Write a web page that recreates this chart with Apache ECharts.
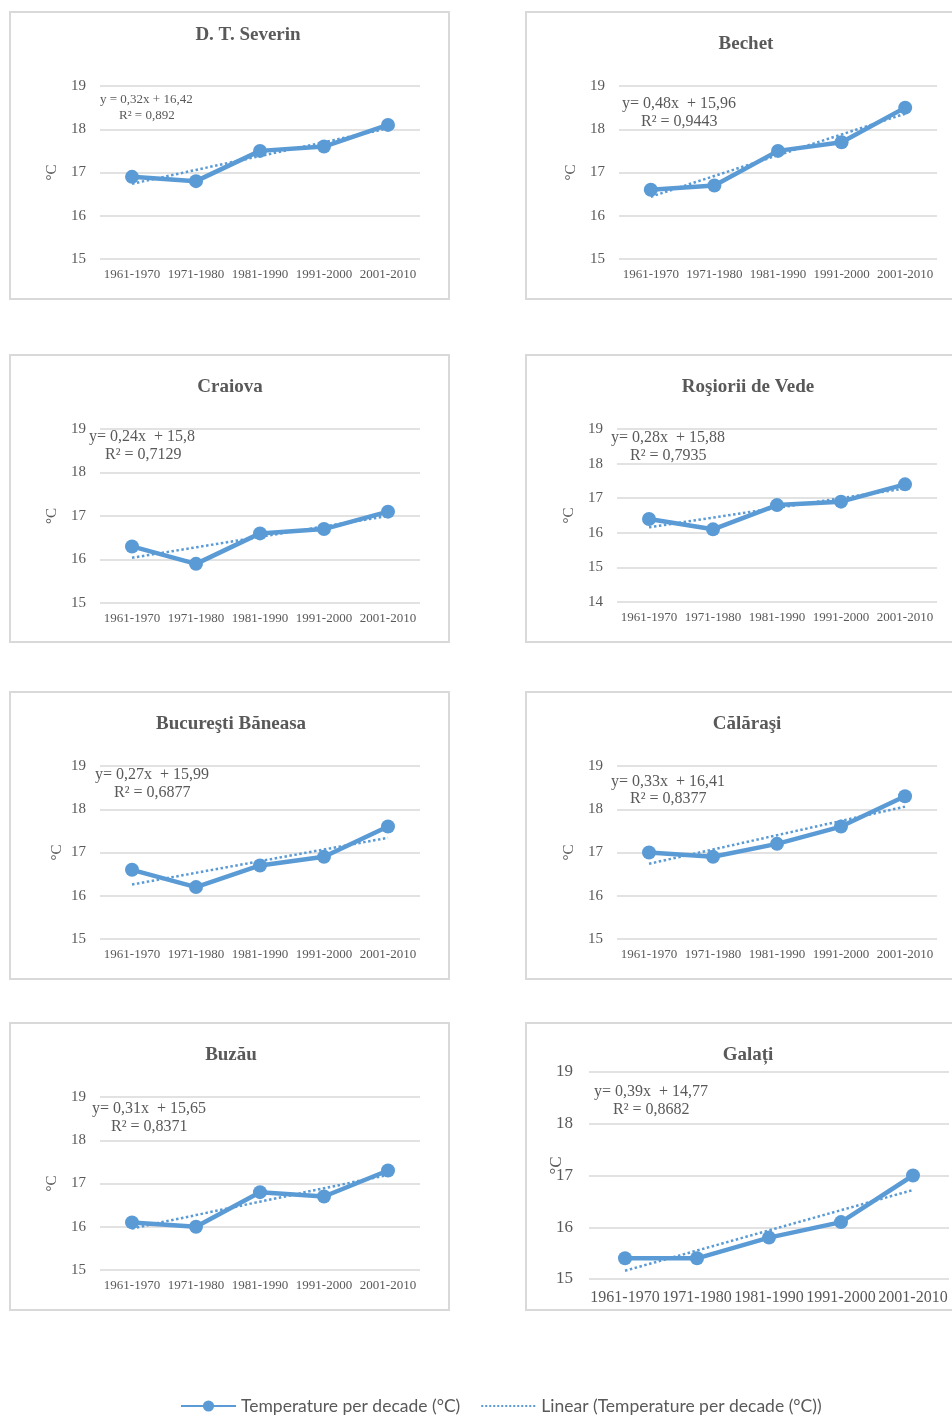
<!DOCTYPE html>
<html><head><meta charset="utf-8">
<script src="https://cdn.jsdelivr.net/npm/echarts@6/dist/echarts.min.js"></script>
<style>html,body{margin:0;padding:0;background:#fff}#c{width:952px;height:1416px}</style>
</head><body><div id="c"></div>
<script>
// ---- data ----
const categories = ['1961-1970', '1971-1980', '1981-1990', '1991-2000', '2001-2010'];
const stations = ['D. T. Severin', 'Bechet', 'Craiova', 'Roşiorii de Vede', 'Bucureşti Băneasa', 'Călăraşi', 'Buzău', 'Galați'];
const severin   = [16.9, 16.8, 17.5, 17.6, 18.1];
const bechet    = [16.6, 16.7, 17.5, 17.7, 18.5];
const craiova   = [16.3, 15.9, 16.6, 16.7, 17.1];
const rosiori   = [16.4, 16.1, 16.8, 16.9, 17.4];
const bucuresti = [16.6, 16.2, 16.7, 16.9, 17.6];
const calarasi  = [17.0, 16.9, 17.2, 17.6, 18.3];
const buzau     = [16.1, 16.0, 16.8, 16.7, 17.3];
const galati    = [15.4, 15.4, 15.8, 16.1, 17.0];
const trendSlopes     = [0.32, 0.48, 0.24, 0.28, 0.27, 0.33, 0.31, 0.39];
const trendIntercepts = [16.42, 15.96, 15.8, 15.88, 15.99, 16.41, 15.65, 14.77];
const equationTexts = ['y = 0,32x + 16,42', 'y= 0,48x  + 15,96', 'y= 0,24x  + 15,8', 'y= 0,28x  + 15,88',
                       'y= 0,27x  + 15,99', 'y= 0,33x  + 16,41', 'y= 0,31x  + 15,65', 'y= 0,39x  + 14,77'];
const r2Texts = ['R² = 0,892', 'R² = 0,9443', 'R² = 0,7129', 'R² = 0,7935',
                 'R² = 0,6877', 'R² = 0,8377', 'R² = 0,8371', 'R² = 0,8682'];
const yMins = [15, 15, 15, 14, 15, 15, 15, 15];
const yMaxs = [19, 19, 19, 19, 19, 19, 19, 19];
const seriesValues = [severin, bechet, craiova, rosiori, bucuresti, calarasi, buzau, galati];
const seriesName = 'Temperature per decade (°C)';
const trendName = 'Linear (Temperature per decade (°C))';

// ---- layout ----
const panels = [
  {bx:10,  by:12,   gl:100, gr:420, gt:86,   gb:259,  tx:248, ty:35,   ex:100, ey:100,  rx:119, ry:116,  ux:52,  efs:13, yfs:15, xfs:13},
  {bx:526, by:12,   gl:619, gr:937, gt:86,   gb:259,  tx:746, ty:44,   ex:622, ey:104,  rx:641, ry:122,  ux:571, efs:16, yfs:15, xfs:13},
  {bx:10,  by:355,  gl:100, gr:420, gt:429,  gb:603,  tx:230, ty:387,  ex:89,  ey:437,  rx:105, ry:455,  ux:52,  efs:16, yfs:15, xfs:13},
  {bx:526, by:355,  gl:617, gr:937, gt:429,  gb:602,  tx:748, ty:387,  ex:611, ey:438,  rx:630, ry:456,  ux:569, efs:16, yfs:15, xfs:13},
  {bx:10,  by:692,  gl:100, gr:420, gt:766,  gb:939,  tx:231, ty:724,  ex:95,  ey:775,  rx:114, ry:793,  ux:57,  efs:16, yfs:15, xfs:13},
  {bx:526, by:692,  gl:617, gr:937, gt:766,  gb:939,  tx:747, ty:724,  ex:611, ey:782,  rx:630, ry:799,  ux:569, efs:16, yfs:15, xfs:13},
  {bx:10,  by:1023, gl:100, gr:420, gt:1097, gb:1270, tx:231, ty:1055, ex:92,  ey:1109, rx:111, ry:1127, ux:52,  efs:16, yfs:15, xfs:13},
  {bx:526, by:1023, gl:589, gr:949, gt:1072, gb:1279, tx:748, ty:1055, ex:594, ey:1092, rx:613, ry:1110, ux:557, efs:16, yfs:17, xfs:16}
];
const PW = 439, PH = 287;
const blue = '#5b9bd5', txt = '#595959', gridC = '#d9d9d9';
const serif = '"Liberation Serif", "DejaVu Serif", serif';

const grids = [], xAxes = [], yAxes = [], series = [], graphics = [];
panels.forEach((p, i) => {
  grids.push({left: p.gl, top: p.gt, width: p.gr - p.gl, height: p.gb - p.gt, containLabel: false});
  xAxes.push({
    type: 'category', gridIndex: i, data: categories, boundaryGap: true,
    axisLine: {show: false}, axisTick: {show: false},
    axisLabel: {color: txt, fontFamily: serif, fontSize: p.xfs, margin: i === 7 ? 11 : 9, interval: 0}
  });
  yAxes.push({
    type: 'value', gridIndex: i, min: yMins[i], max: yMaxs[i], interval: 1,
    axisLine: {show: false}, axisTick: {show: false},
    axisLabel: {color: txt, fontFamily: serif, fontSize: p.yfs, margin: i === 7 ? 16 : 14},
    splitLine: {lineStyle: {color: gridC, width: 1.5}}
  });
  series.push({
    name: trendName, type: 'line', xAxisIndex: i, yAxisIndex: i, z: 2,
    data: categories.map((c, k) => +(trendSlopes[i] * (k + 1) + trendIntercepts[i]).toFixed(4)),
    symbol: 'none', silent: true,
    lineStyle: {color: blue, width: 2.5, type: 'dotted'}, itemStyle: {color: blue}
  });
  series.push({
    name: seriesName, type: 'line', xAxisIndex: i, yAxisIndex: i, z: 3,
    data: seriesValues[i], symbol: 'circle', symbolSize: 14,
    lineStyle: {color: blue, width: 4.5}, itemStyle: {color: blue}
  });
  graphics.push({
    type: 'text', x: p.tx, y: p.ty, silent: true,
    style: {text: stations[i], font: 'bold 19px ' + serif, fill: txt, textAlign: 'center', textVerticalAlign: 'middle'}
  });
  graphics.push({
    type: 'rect', shape: {x: p.bx, y: p.by, width: PW + (p.bx > 500 ? 40 : 0), height: PH},
    style: {fill: 'none', stroke: gridC, lineWidth: 2}, z: -10, silent: true
  });
  graphics.push({
    type: 'text', x: p.ex, y: p.ey, silent: true,
    style: {text: equationTexts[i], font: p.efs + 'px ' + serif, fill: txt, textVerticalAlign: 'middle'}
  });
  graphics.push({
    type: 'text', x: p.rx, y: p.ry, silent: true,
    style: {text: r2Texts[i], font: p.efs + 'px ' + serif, fill: txt, textVerticalAlign: 'middle'}
  });
  graphics.push({
    type: 'text', x: p.ux, y: (p.gt + p.gb) / 2 + (i === 7 ? -10 : 0), rotation: Math.PI / 2, silent: true,
    style: {text: '°C', font: (i === 7 ? 17 : 15) + 'px ' + serif, fill: txt, textAlign: 'center', textVerticalAlign: 'middle'}
  });
});

const chart = echarts.init(document.getElementById('c'), null, {renderer: 'canvas'});
chart.setOption({
  animation: false,
  backgroundColor: '#fff',
  grid: grids,
  xAxis: xAxes,
  yAxis: yAxes,
  series: series,
  graphic: graphics,
  legend: {
    data: [
      {name: seriesName},
      {name: trendName, itemStyle: {color: 'rgba(0,0,0,0)', borderColor: 'rgba(0,0,0,0)', borderWidth: 0}}
    ],
    left: 175, top: 1391, padding: 5, itemWidth: 55, itemHeight: 14, itemGap: 20,
    textStyle: {fontFamily: 'Lato, "Liberation Sans", sans-serif', fontSize: 17.5, color: txt, lineHeight: 20}
  }
});
</script>
</body></html>
